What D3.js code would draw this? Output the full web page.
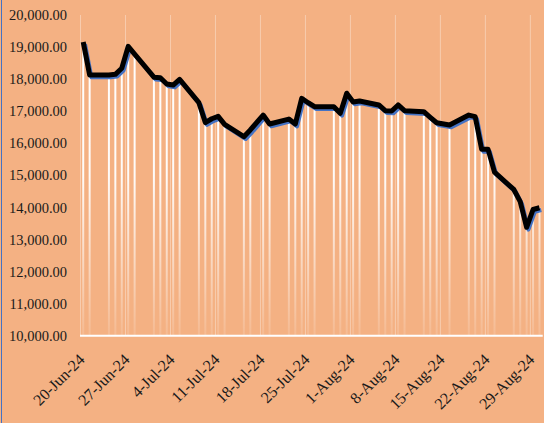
<!DOCTYPE html>
<html>
<head>
<meta charset="utf-8">
<script src="https://cdn.jsdelivr.net/npm/d3@7"></script>
<style>
  html, body { margin: 0; padding: 0; background: #F4B183; }
  svg { display: block; }
</style>
</head>
<body>
<div id="chart"></div>
<script>
// trading days and closing values
var dates = ["2024-06-20","2024-06-21","2024-06-24","2024-06-25","2024-06-26","2024-06-27","2024-06-28",
  "2024-07-01","2024-07-02","2024-07-03","2024-07-04","2024-07-05",
  "2024-07-08","2024-07-09","2024-07-10","2024-07-11","2024-07-12",
  "2024-07-15","2024-07-16","2024-07-18","2024-07-19",
  "2024-07-22","2024-07-23","2024-07-24","2024-07-25","2024-07-26",
  "2024-07-29","2024-07-30","2024-07-31","2024-08-01","2024-08-02",
  "2024-08-05","2024-08-06","2024-08-07","2024-08-08","2024-08-09",
  "2024-08-12","2024-08-13","2024-08-14","2024-08-16",
  "2024-08-19","2024-08-20","2024-08-21","2024-08-22","2024-08-23",
  "2024-08-26","2024-08-27","2024-08-28","2024-08-29","2024-08-30"];
var values = [19160,18130,18130,18150,18340,19020,18780,
  18060,18045,17850,17815,17995,
  17265,16645,16765,16840,16590,
  16205,16415,16880,16600,
  16755,16600,17400,17265,17140,
  17140,16935,17560,17290,17320,
  17195,17015,17005,17195,17015,
  16985,16810,16640,16570,
  16880,16830,15810,15810,15100,
  14560,14180,13380,13935,13990];
var xTickLabels = ["2024-06-20","2024-06-27","2024-07-04","2024-07-11","2024-07-18","2024-07-25",
  "2024-08-01","2024-08-08","2024-08-15","2024-08-22","2024-08-29"];
var yTicks = [10000,11000,12000,13000,14000,15000,16000,17000,18000,19000,20000];

(function() {
var w = 544, h = 423;
var padLeft = 80, padRight = 542.7, padTop = 15, padBottom = 335.7;

var parse = d3.timeParse("%Y-%m-%d");
var data = dates.map(function(d, i) { return { date: parse(d), value: values[i] }; });
var noon = function(d) { return d3.timeHour.offset(d, 12); };

var svg = d3.select("#chart").append("svg")
  .attr("width", w)
  .attr("height", h);

svg.append("rect")
  .attr("width", w)
  .attr("height", h)
  .attr("fill", "#F4B183");

// left border of chart area
svg.append("line")
  .attr("x1", 1.5).attr("x2", 1.5)
  .attr("y1", 0).attr("y2", h)
  .attr("stroke", "#4472C4")
  .attr("stroke-width", 1);

var xScale = d3.scaleTime()
  .domain([parse("2024-06-20"), parse("2024-08-31")])
  .range([padLeft, padRight]);

var yScale = d3.scaleLinear()
  .domain([10000, 20000])
  .range([padBottom, padTop]);

var defs = svg.append("defs");
var grad = defs.append("linearGradient")
  .attr("id", "dropFade")
  .attr("gradientUnits", "userSpaceOnUse")
  .attr("x1", 0).attr("x2", 0)
  .attr("y1", padTop).attr("y2", padBottom);
grad.append("stop").attr("offset", 0).attr("stop-color", "#fff").attr("stop-opacity", 1);
grad.append("stop").attr("offset", 0.5).attr("stop-color", "#fff").attr("stop-opacity", 0.95);
grad.append("stop").attr("offset", 1).attr("stop-color", "#fff").attr("stop-opacity", 0.12);

// weekly vertical gridlines
var gridAxis = d3.axisBottom(xScale)
  .tickValues(xTickLabels.map(parse))
  .tickSize(-(padBottom - padTop))
  .tickFormat("");
var grid = svg.append("g")
  .attr("transform", "translate(0," + padBottom + ")")
  .call(gridAxis);
grid.select(".domain").remove();
grid.selectAll("line")
  .attr("stroke", "#fff")
  .attr("stroke-opacity", 0.35)
  .attr("stroke-width", 1);

// drop lines
svg.append("g").selectAll("line")
  .data(data)
  .enter()
  .append("line")
  .attr("x1", function(d) { return xScale(noon(d.date)); })
  .attr("x2", function(d) { return xScale(noon(d.date)); })
  .attr("y1", function(d) { return yScale(d.value); })
  .attr("y2", padBottom)
  .attr("stroke", "url(#dropFade)")
  .attr("stroke-width", 2);

// x axis baseline
svg.append("line")
  .attr("x1", padLeft).attr("x2", padRight)
  .attr("y1", padBottom).attr("y2", padBottom)
  .attr("stroke", "#fff")
  .attr("stroke-width", 2);

var line = d3.line()
  .x(function(d) { return xScale(noon(d.date)); })
  .y(function(d) { return yScale(d.value); });

// blue offset line, then heavy black line
svg.append("path")
  .attr("d", line(data))
  .attr("transform", "translate(1.8,2.3)")
  .attr("fill", "none")
  .attr("stroke", "#4472C4")
  .attr("stroke-width", 4)
  .attr("stroke-linejoin", "round");

svg.append("path")
  .attr("d", line(data))
  .attr("fill", "none")
  .attr("stroke", "#000")
  .attr("stroke-width", 5)
  .attr("stroke-linejoin", "round");

// y axis labels
var yAxis = d3.axisLeft(yScale)
  .tickValues(yTicks)
  .tickSize(0)
  .tickPadding(13)
  .tickFormat(d3.format(",.2f"));
var yBar = svg.append("g")
  .attr("transform", "translate(" + padLeft + ",0)")
  .call(yAxis);
yBar.select(".domain").remove();
yBar.selectAll("text")
  .attr("fill", "#1a1a1a")
  .style("font-family", "'Liberation Serif', 'Times New Roman', serif")
  .style("font-size", "14.5px");

// x axis labels
var xAxis = d3.axisBottom(xScale)
  .tickValues(xTickLabels.map(function(d) { return noon(parse(d)); }))
  .tickSize(0)
  .tickFormat(d3.timeFormat("%-d-%b-%y"));
var xBar = svg.append("g")
  .attr("transform", "translate(0," + padBottom + ")")
  .call(xAxis);
xBar.select(".domain").remove();
xBar.selectAll("text")
  .attr("fill", "#1a1a1a")
  .style("font-family", "'Liberation Serif', 'Times New Roman', serif")
  .style("font-size", "16px")
  .attr("text-anchor", "end")
  .attr("x", 0)
  .attr("y", 0)
  .attr("dy", "0.35em")
  .attr("transform", "translate(-2,21) rotate(-45)");
})();
</script>
</body>
</html>
